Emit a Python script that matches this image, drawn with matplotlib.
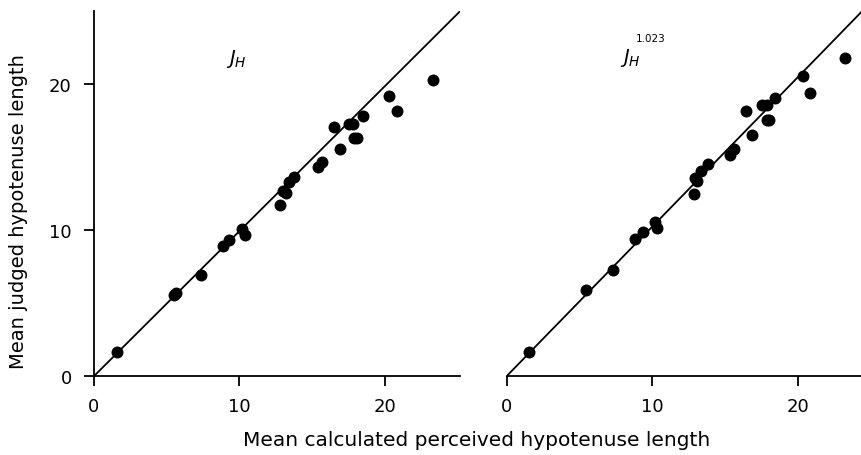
import matplotlib.pyplot as plt

# left panel: J_H
left_x = [1.6, 5.5, 5.65, 7.35, 8.85, 9.25, 10.2, 10.35, 12.75, 13.0, 13.2, 13.4, 13.75,
          15.4, 15.65, 16.5, 16.9, 17.5, 17.8, 17.85, 18.1, 18.5, 20.3, 20.8, 23.3]
left_y = [1.65, 5.55, 5.7, 6.9, 8.9, 9.3, 10.05, 9.65, 11.7, 12.7, 12.55, 13.3, 13.65,
          14.3, 14.7, 17.1, 15.55, 17.3, 17.3, 16.3, 16.3, 17.8, 19.2, 18.15, 20.3]

# right panel: J_H^1.023
right_x = [1.55, 5.45, 7.3, 8.8, 9.35, 10.2, 10.35, 12.85, 12.95, 13.1, 13.35, 13.85,
           15.35, 15.6, 16.45, 16.85, 17.5, 17.85, 17.9, 18.0, 18.45, 20.35, 20.85, 23.2]
right_y = [1.65, 5.9, 7.3, 9.4, 9.9, 10.55, 10.15, 12.45, 13.55, 13.4, 14.05, 14.55,
           15.15, 15.55, 18.15, 16.55, 18.55, 18.55, 17.55, 17.55, 19.05, 20.55, 19.4, 21.8]

ticks = [0, 10, 20]
ref_left = ([0, 25.15], [0, 25])
ref_right = ([0, 24.4], [0, 25])

plt.rcParams['font.family'] = 'DejaVu Sans'
fig = plt.figure(figsize=(8.62, 4.56), dpi=100)
ax1 = fig.add_axes([0.109, 0.173, 0.4246, 0.800])
ax2 = fig.add_axes([0.5878, 0.173, 0.4122, 0.800])

for ax, xs, ys, ref, xmax in [(ax1, left_x, left_y, ref_left, 25.15),
                               (ax2, right_x, right_y, ref_right, 24.4)]:
    ax.plot(ref[0], ref[1], color='black', lw=1.3)
    ax.plot(xs, ys, 'o', color='black', ms=8.6, mec='none')
    ax.set_xlim(0, xmax)
    ax.set_ylim(0, 25)
    ax.set_xticks(ticks)
    ax.spines['top'].set_visible(False)
    ax.spines['right'].set_visible(False)
    for s in ax.spines.values():
        s.set_linewidth(1.3)
    ax.tick_params(direction='out', length=7, width=1.3, labelsize=13)
    ax.tick_params(axis='x', pad=8)
    ax.tick_params(axis='y', pad=9)

ax1.set_yticks(ticks)
ax2.set_yticks([])
ax2.spines['left'].set_visible(False)

ax1.text(9.76, 21.8, '$J_H$', fontsize=14, ha='center', va='center')
ax2.text(8.53, 21.85, '$J_H$', fontsize=14, ha='center', va='center')
ax2.text(9.9, 23.15, '1.023', fontsize=7.5, ha='center', va='center')

fig.text(0.021, 0.535, 'Mean judged hypotenuse length', fontsize=14,
         rotation=90, ha='center', va='center')
fig.text(0.553, 0.033, 'Mean calculated perceived hypotenuse length', fontsize=14.5,
         ha='center', va='center')

plt.savefig('out.png', dpi=100)
